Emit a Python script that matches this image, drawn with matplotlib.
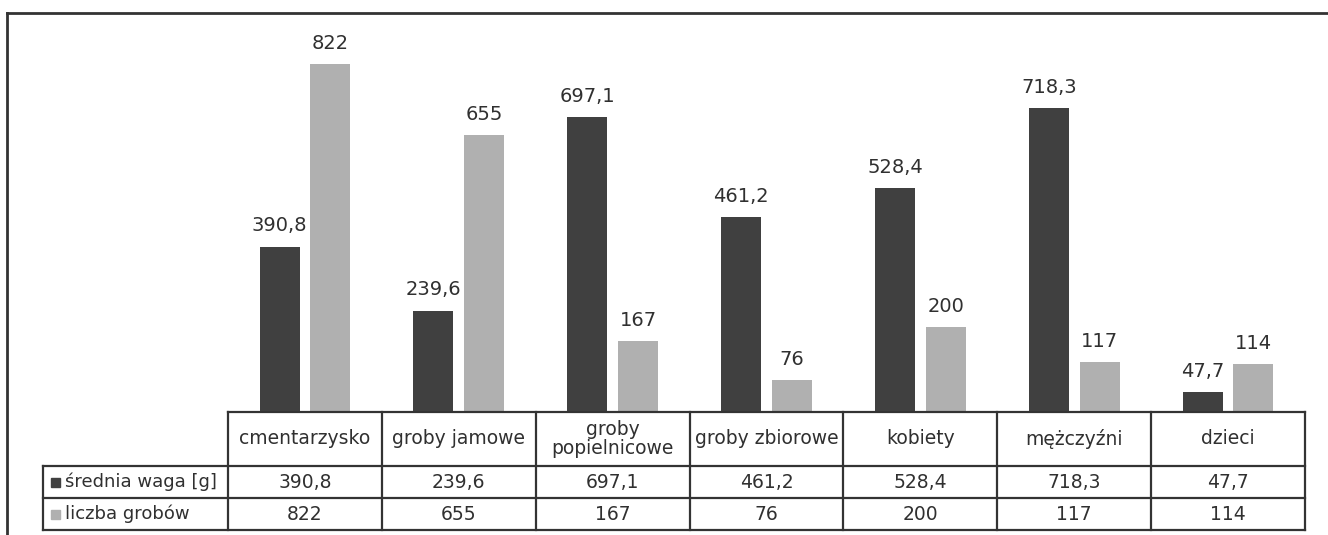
import matplotlib
matplotlib.use("Agg")
import matplotlib.pyplot as plt
import numpy as np
from matplotlib.lines import Line2D
from matplotlib.patches import Rectangle

plt.rcParams['font.family'] = ['DejaVu Sans']

categories = ["cmentarzysko", "groby jamowe", "groby\npopielnicowe",
              "groby zbiorowe", "kobiety", "mężczyźni", "dzieci"]
srednia_waga = [390.8, 239.6, 697.1, 461.2, 528.4, 718.3, 47.7]
liczba_grobow = [822, 655, 167, 76, 200, 117, 114]
series_names = ["średnia waga [g]", "liczba grobów"]

dark = "#404040"
light = "#b0b0b0"
ink = "#303030"
line_col = "#333333"

W, H = 1328, 535
fig = plt.figure(figsize=(W / 100, H / 100), dpi=100)


def fx(px):
    return px / W


def fy(py):
    return 1 - py / H


# plot area
x0, x1 = 228, 1305
base, top = 412, 31
ax = fig.add_axes([fx(x0), fy(base), fx(x1) - fx(x0), (base - top) / H])
n = len(categories)
x = np.arange(n)
bw = 0.26
off = 0.165
b1 = ax.bar(x - off, srednia_waga, bw, color=dark)
b2 = ax.bar(x + off, liczba_grobow, bw, color=light)


def fmt(v):
    return str(v).replace(".", ",") if isinstance(v, float) else str(v)


for bars, vals in ((b1, srednia_waga), (b2, liczba_grobow)):
    for r, v in zip(bars, vals):
        ax.annotate(fmt(v), (r.get_x() + r.get_width() / 2, r.get_height()),
                    xytext=(0, 8), textcoords="offset points",
                    ha="center", va="bottom", fontsize=14, color=ink)

ax.set_xlim(-0.5, n - 0.5)
ax.set_ylim(0, 900)
ax.axis("off")

# data table below the bars
col_w = (x1 - x0) / n
hdr_top, hdr_bot = 412, 466
r1_bot, r2_bot = 498, 530
lbl_left = 43
lw = 1.6
fs_tab = 13.5


def hline(y, xa, xb):
    fig.add_artist(Line2D([fx(xa), fx(xb)], [fy(y), fy(y)], color=line_col, lw=lw))


def vline(xp, ya, yb):
    fig.add_artist(Line2D([fx(xp), fx(xp)], [fy(ya), fy(yb)], color=line_col, lw=lw))


hline(hdr_top, x0, x1)
hline(hdr_bot, lbl_left, x1)
hline(r1_bot, lbl_left, x1)
hline(r2_bot, lbl_left, x1)
vline(lbl_left, hdr_bot, r2_bot)
for i in range(n + 1):
    vline(x0 + i * col_w, hdr_top, r2_bot)

for i, c in enumerate(categories):
    cx = x0 + (i + 0.5) * col_w
    fig.text(fx(cx), fy((hdr_top + hdr_bot) / 2), c, ha="center", va="center",
             fontsize=fs_tab, color=ink, linespacing=1.0)
    fig.text(fx(cx), fy((hdr_bot + r1_bot) / 2), fmt(srednia_waga[i]), ha="center",
             va="center", fontsize=fs_tab, color=ink)
    fig.text(fx(cx), fy((r1_bot + r2_bot) / 2), fmt(liczba_grobow[i]), ha="center",
             va="center", fontsize=fs_tab, color=ink)

for (ya, yb), name, col in (((hdr_bot, r1_bot), series_names[0], dark),
                            ((r1_bot, r2_bot), series_names[1], light)):
    yc = (ya + yb) / 2
    fig.add_artist(Rectangle((fx(51), fy(yc + 4.5)), fx(9), 9 / H, color=col))
    fig.text(fx(65), fy(yc), name, ha="left", va="center", fontsize=13, color=ink)

# outer frame
fig.add_artist(Line2D([fx(7), fx(W)], [fy(13), fy(13)], color=line_col, lw=2))
fig.add_artist(Line2D([fx(7), fx(7)], [fy(13), fy(H)], color=line_col, lw=2))

fig.savefig("out.png", dpi=100)
